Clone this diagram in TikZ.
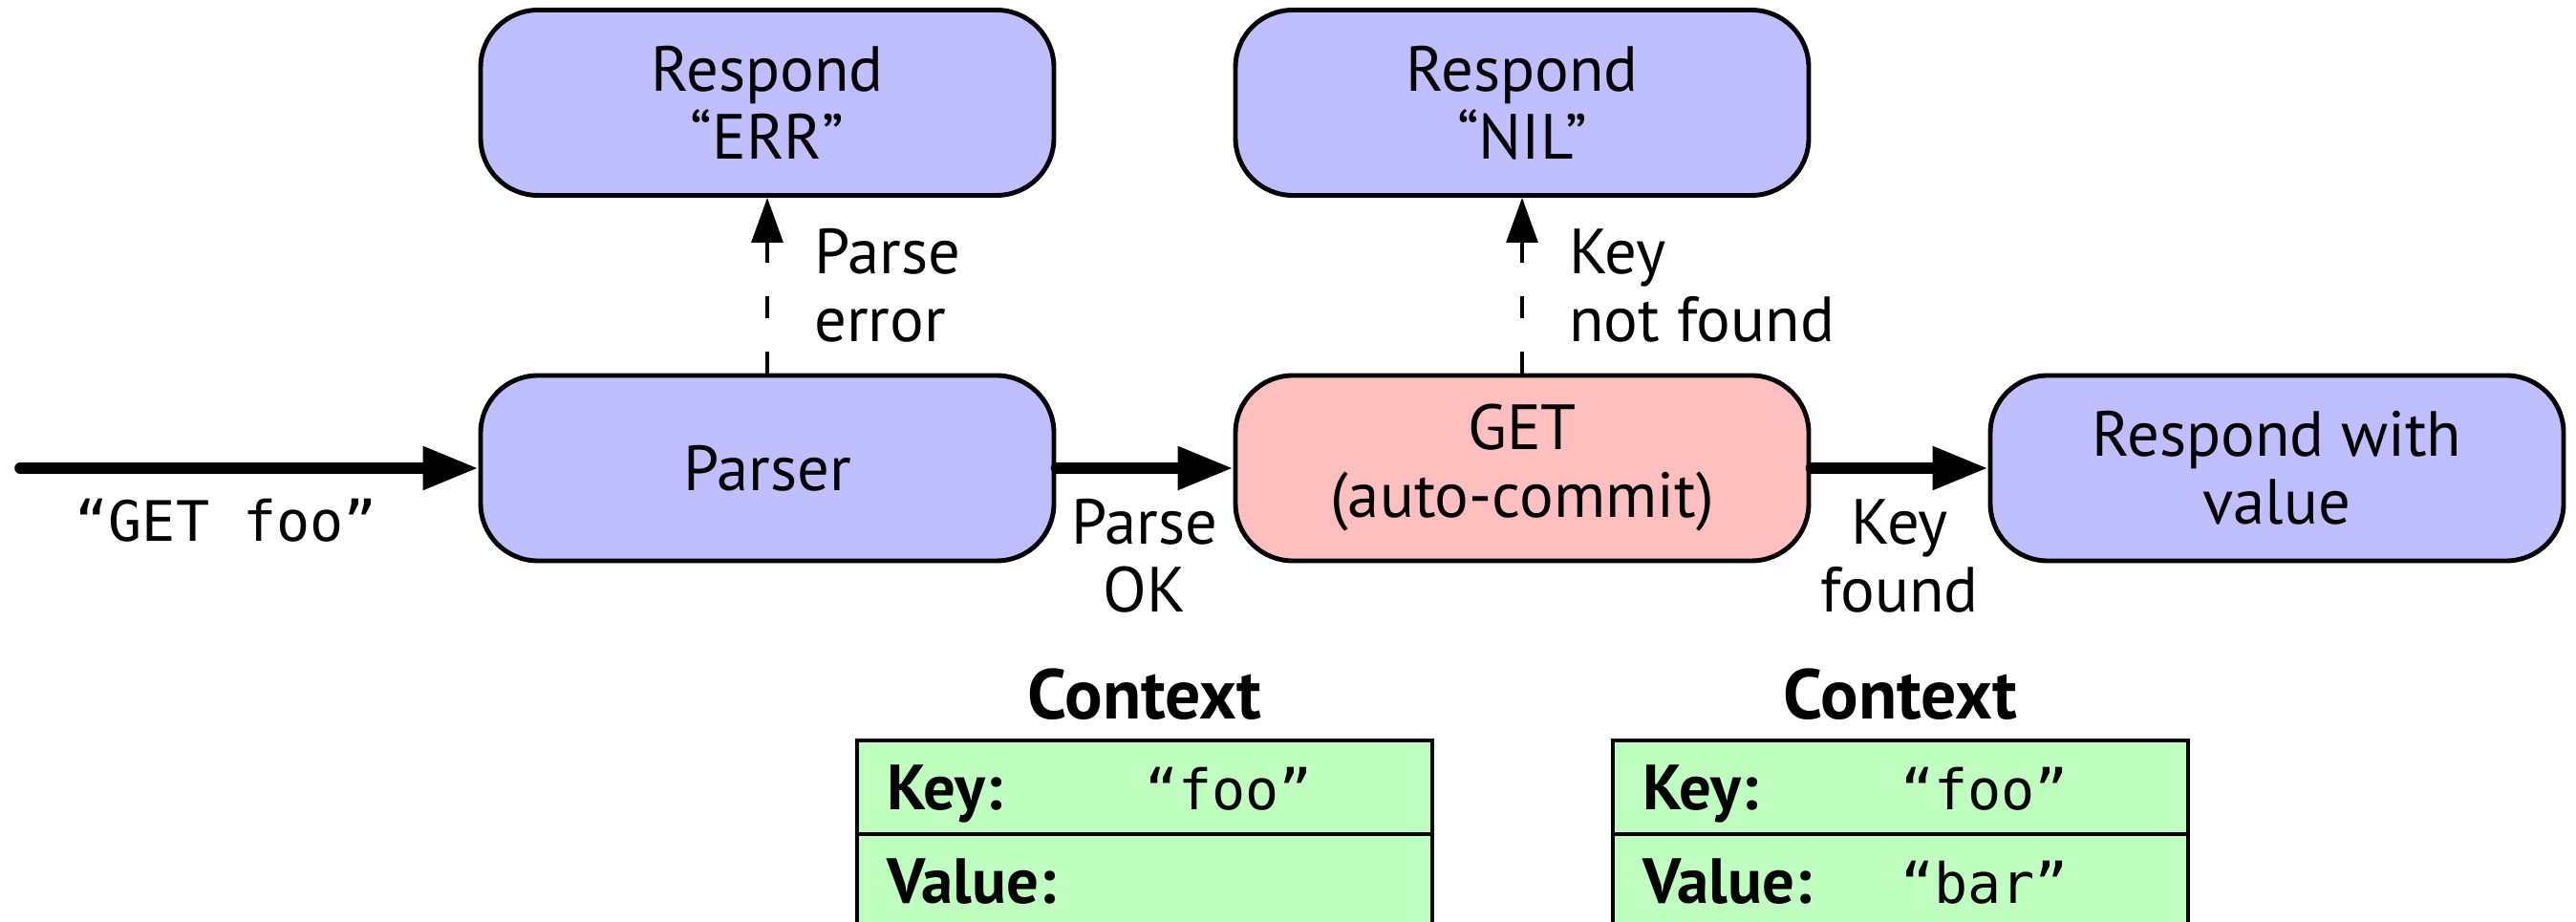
\documentclass[tikz,border=0pt]{standalone}
\usepackage{fontspec}
\setmainfont{PT Sans}
\setmonofont{DejaVu Sans Mono}
\usetikzlibrary{arrows.meta}

\newcommand\lit[1]{{\fontsize{16.6}{20}\ttfamily “#1”}}

\begin{document}
\begin{tikzpicture}[
  stagebox/.style={draw, line width=1.4pt, rounded corners=0.6cm, minimum width=6cm, minimum height=1.94cm, align=center, font=\fontsize{19}{20.2}\selectfont},
  respbox/.style={stagebox, fill=blue!25},
  opbox/.style={stagebox, fill=red!25},
  flow/.style={line width=3.3pt, line cap=round, -{Triangle[length=5.8mm,width=4.3mm]}},
  fail/.style={line width=0.9pt, dash pattern=on 6.5pt off 10pt, -{Triangle[length=4.7mm,width=3.3mm]}},
  lbl/.style={font=\fontsize{19}{20.2}\selectfont, align=center},
  cell/.style={draw, line width=1.4pt, fill=green!25, text width=5.4cm, inner xsep=0.31cm, minimum height=0.98cm, text height=0.5cm, text depth=0.04cm, font=\fontsize{19}{20.2}\selectfont},
  ctxtitle/.style={font=\fontsize{21}{22}\selectfont\bfseries}
]
  \useasboundingbox (0,0) rectangle (26.96,-9.65);

  % main line
  \coordinate (in) at (0.21,-4.90);
  \node[respbox] (parser) at (8.03,-4.90) {Parser};
  \node[opbox] (get) at (15.93,-4.90) {GET\\(auto-commit)};
  \node[respbox] (value) at (23.83,-4.90) {Respond with\\value};

  % error paths
  \node[respbox] (err) at (8.03,-1.075) {Respond\\“ERR”};
  \node[respbox] (nil) at (15.93,-1.075) {Respond\\“NIL”};

  \draw[flow] (in) -- node[lbl, below=0.15cm, pos=0.45] {\lit{GET foo}} (parser);
  \draw[flow] (parser) -- node[lbl, below=0.15cm] {Parse\\OK} (get);
  \draw[flow] (get) -- node[lbl, below=0.15cm] {Key\\found} (value);
  \draw[fail] (parser) -- node[lbl, right=0.36cm, align=left] {Parse\\error} (err);
  \draw[fail] (get) -- node[lbl, right=0.36cm, align=left] {Key\\not found} (nil);

  % contexts
  \node[ctxtitle, anchor=base] (ctxA) at (11.98,-7.53) {Context};
  \node[cell] (ctxAkey) at (11.98,-8.24) {\makebox[2.7cm][l]{\bfseries Key:}\lit{foo}};
  \node[cell] (ctxAval) at (11.98,-9.22) {\makebox[2.7cm][l]{\bfseries Value:}};

  \node[ctxtitle, anchor=base] (ctxB) at (19.89,-7.53) {Context};
  \node[cell] (ctxBkey) at (19.89,-8.24) {\makebox[2.7cm][l]{\bfseries Key:}\lit{foo}};
  \node[cell] (ctxBval) at (19.89,-9.22) {\makebox[2.7cm][l]{\bfseries Value:}\lit{bar}};
\end{tikzpicture}
\end{document}
